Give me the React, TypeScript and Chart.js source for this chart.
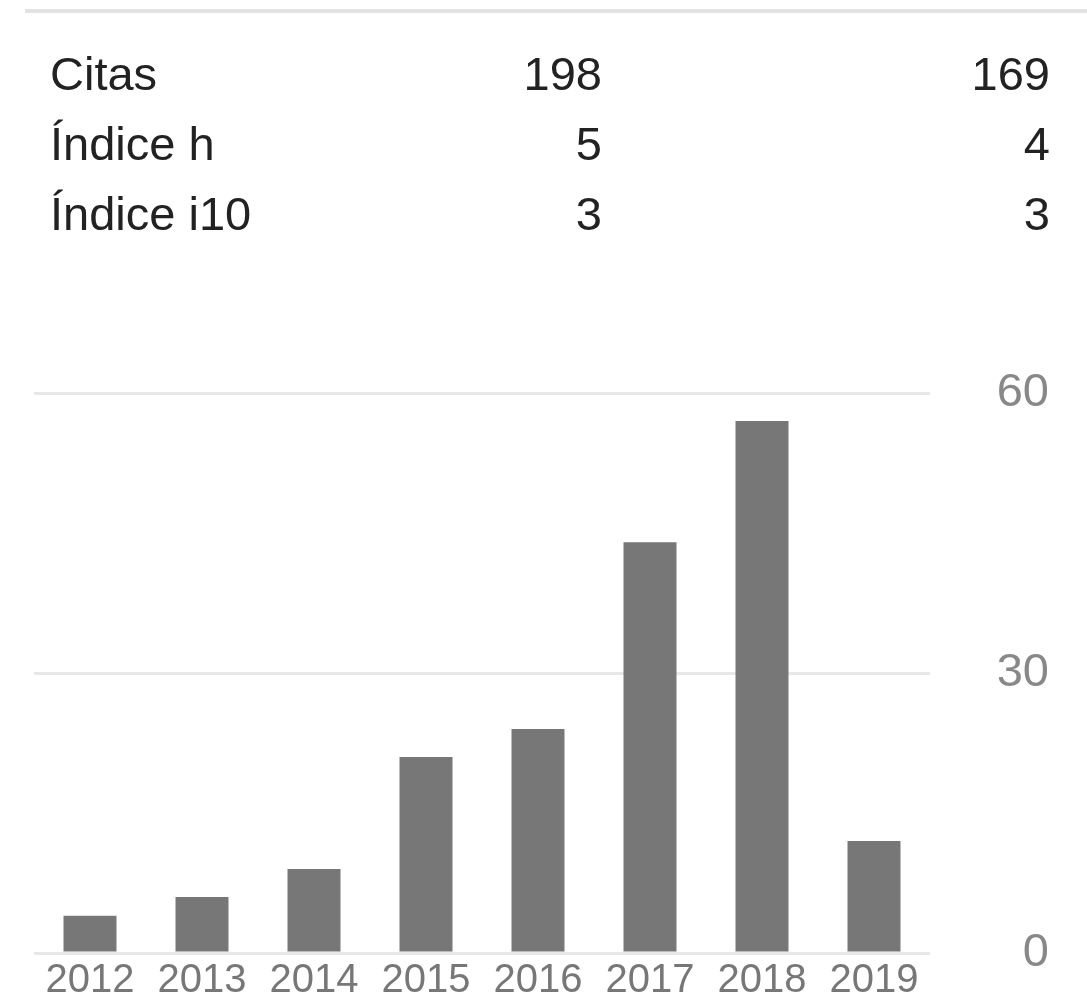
import React, { useEffect, useRef } from "react";
import { Chart, registerables } from "chart.js";

Chart.register(...registerables);

const years = ["2012", "2013", "2014", "2015", "2016", "2017", "2018", "2019"];
const citations = [4, 6, 9, 21, 24, 44, 57, 12];
const yTicks = [0, 30, 60];
const statLabels = ["Citas", "Índice h", "Índice i10"];
const statAll = [198, 5, 3];
const statSince = [169, 4, 3];

const FONT = "'Liberation Sans', Arial, sans-serif";
const W = 1087;
const H = 995;

export default function App() {
  const canvasRef = useRef<HTMLCanvasElement | null>(null);

  useEffect(() => {
    if (!canvasRef.current) return;
    const chart = new Chart(canvasRef.current, {
      type: "bar",
      data: {
        labels: years,
        datasets: [
          {
            data: citations,
            backgroundColor: "#777777",
            borderWidth: 0,
            barPercentage: 0.473,
            categoryPercentage: 1,
          },
        ],
      },
      options: {
        animation: false,
        responsive: false,
        maintainAspectRatio: false,
        devicePixelRatio: 1,
        layout: { padding: { top: 393, left: 34, right: 38, bottom: 0 } },
        plugins: { legend: { display: false }, tooltip: { enabled: false } },
        scales: {
          x: {
            grid: { display: false },
            border: { display: false },
            ticks: {
              color: "#777777",
              font: { family: FONT, size: 40, lineHeight: 1 },
              padding: 0,
              maxRotation: 0,
              autoSkip: false,
            },
            afterFit: (axis: any) => {
              axis.height = 42;
            },
          },
          y: {
            position: "right",
            min: 0,
            max: 60,
            grid: { color: "#e8e8e8", lineWidth: 3, drawTicks: false },
            border: { display: false },
            ticks: {
              color: "#888888",
              font: { family: FONT, size: 47 },
              crossAlign: "far",
              padding: 0,
            },
            afterBuildTicks: (axis: any) => {
              axis.ticks = yTicks.map((v) => ({ value: v }));
            },
            afterFit: (axis: any) => {
              axis.width = 119;
            },
          },
        },
      },
    } as any);
    return () => chart.destroy();
  }, []);

  const textStyle: React.CSSProperties = {
    position: "absolute",
    fontFamily: FONT,
    fontSize: 47,
    lineHeight: "47px",
    color: "#222222",
    whiteSpace: "nowrap",
  };

  return (
    <div style={{ position: "absolute", left: 0, top: 0, width: W, height: H, background: "#fff", overflow: "hidden" }}>
      <canvas ref={canvasRef} width={W} height={H} style={{ position: "absolute", left: 0, top: 0, width: W, height: H }} />
      <div style={{ position: "absolute", left: 25, top: 9, width: W - 25, height: 4, background: "#e2e2e2" }} />
      {statLabels.map((label, i) => (
        <React.Fragment key={label}>
          <div style={{ ...textStyle, left: 50, top: 50 + i * 70 }}>{label}</div>
          <div style={{ ...textStyle, right: W - 602, top: 50 + i * 70, textAlign: "right" }}>{statAll[i]}</div>
          <div style={{ ...textStyle, right: W - 1050, top: 50 + i * 70, textAlign: "right" }}>{statSince[i]}</div>
        </React.Fragment>
      ))}
    </div>
  );
}
